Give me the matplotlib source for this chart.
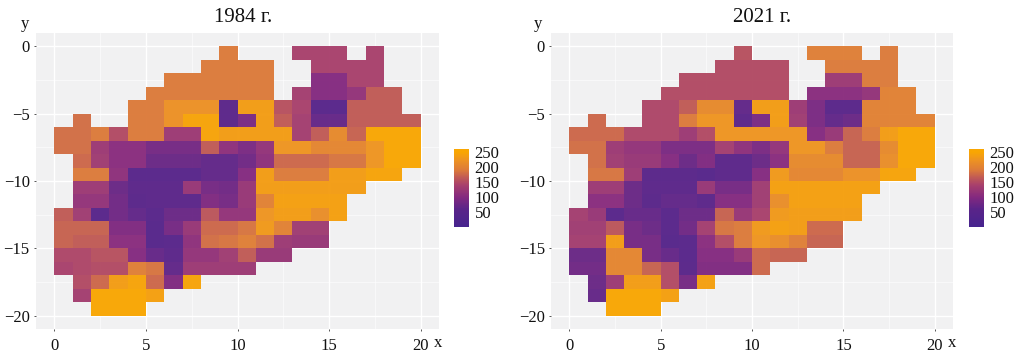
import matplotlib
matplotlib.use("Agg")
import matplotlib.pyplot as plt
import numpy as np
from matplotlib.colors import LinearSegmentedColormap

_ = np.nan
titles = ["1984 г.", "2021 г."]
x_ticks = [0, 5, 10, 15, 20]
y_ticks = [0, -5, -10, -15, -20]
legend_ticks = [50, 100, 150, 200, 250]

# rows run from y=0 downward, columns from x=0 rightward
tiles_1984 = [
 [_,_,_,_,_,_,_,_,_,190,_,_,_,140,140,140,_,140,_,_],
 [_,_,_,_,_,_,_,_,190,190,190,190,_,_,140,140,140,140,_,_],
 [_,_,_,_,_,_,190,190,190,190,190,190,_,_,100,100,140,140,_,_],
 [_,_,_,_,_,190,190,190,190,190,190,190,_,135,100,100,115,165,165,_],
 [_,_,_,_,190,190,220,220,220,60,235,235,155,140,50,50,165,165,165,_],
 [_,180,_,_,190,190,220,245,245,60,90,235,165,135,70,70,165,165,165,165],
 [180,180,190,150,190,190,125,125,245,235,235,235,235,135,165,210,170,250,250,250],
 [180,180,125,105,105,85,85,85,165,110,90,115,225,225,205,205,205,225,250,250],
 [_,175,130,105,105,75,75,75,65,65,80,110,175,175,175,185,185,225,250,250],
 [_,190,190,110,50,50,50,50,65,65,100,235,190,190,190,235,235,245,245,_],
 [_,125,125,75,60,60,60,120,85,80,120,235,235,235,235,235,235,_,_,_],
 [_,115,115,80,55,60,60,60,95,85,120,200,240,240,240,240,_,_,_,_],
 [165,130,50,80,65,50,75,75,160,115,115,225,235,235,215,240,_,_,_,_],
 [170,170,170,95,95,45,85,120,175,175,185,230,200,130,130,_,_,_,_,_],
 [170,165,165,105,105,45,50,110,180,185,195,180,125,120,120,_,_,_,_,_],
 [145,145,155,155,100,70,60,115,115,130,165,120,120,_,_,_,_,_,_,_],
 [140,145,150,150,195,185,65,125,125,125,125,_,_,_,_,_,_,_,_,_],
 [_,150,175,235,245,175,95,245,_,_,_,_,_,_,_,_,_,_,_,_],
 [_,135,250,250,250,240,_,_,_,_,_,_,_,_,_,_,_,_,_,_],
 [_,_,250,250,250,_,_,_,_,_,_,_,_,_,_,_,_,_,_,_],
]
tiles_2021 = [
 [_,_,_,_,_,_,_,_,_,155,_,_,_,195,195,195,_,190,_,_],
 [_,_,_,_,_,_,_,_,150,150,150,150,_,_,190,190,190,190,_,_],
 [_,_,_,_,_,_,150,150,150,150,150,150,_,_,125,125,190,190,_,_],
 [_,_,_,_,_,150,150,150,150,150,150,150,_,105,105,105,115,200,200,_],
 [_,_,_,_,145,145,165,210,210,65,235,235,125,90,55,55,200,200,200,_],
 [_,175,_,_,145,145,190,225,225,60,90,235,130,90,65,75,200,200,200,200],
 [175,175,175,145,145,145,125,150,225,225,225,225,225,100,120,170,190,235,250,250],
 [180,180,125,115,115,90,90,90,135,110,90,115,225,225,190,170,170,210,250,250],
 [_,180,130,120,120,100,75,95,60,60,75,105,210,210,210,170,170,215,250,250],
 [_,185,185,125,55,55,55,45,60,60,100,230,205,205,205,220,220,245,245,_],
 [_,125,125,75,60,60,60,120,85,85,130,240,240,240,240,240,240,_,_,_],
 [_,105,105,75,55,65,65,60,100,100,130,215,240,240,240,240,_,_,_,_],
 [135,120,50,70,70,50,75,75,170,120,140,230,235,235,235,235,_,_,_,_],
 [130,130,160,85,75,50,80,135,185,190,230,240,235,175,175,_,_,_,_,_],
 [135,135,235,85,85,45,50,105,150,190,225,215,195,170,170,_,_,_,_,_],
 [75,75,205,205,85,70,50,100,100,120,175,170,170,_,_,_,_,_,_,_],
 [80,80,205,205,170,150,55,95,95,95,175,_,_,_,_,_,_,_,_,_],
 [_,75,125,235,235,150,85,240,_,_,_,_,_,_,_,_,_,_,_,_],
 [_,70,250,250,250,240,_,_,_,_,_,_,_,_,_,_,_,_,_,_],
 [_,_,250,250,250,_,_,_,_,_,_,_,_,_,_,_,_,_,_,_],
]

W, H = 1024, 360
plt.rcParams["font.family"] = ["Liberation Serif"]
fig = plt.figure(figsize=(W / 100, H / 100), dpi=100)

def rect(l, t, r, b):
    return [l / W, 1 - b / H, (r - l) / W, (b - t) / H]

stops = [(0, "#46248e"), (60 / 260, "#5a2489"), (100 / 260, "#84297f"),
         (140 / 260, "#a8406c"), (165 / 260, "#c05a55"), (190 / 260, "#dc7a3a"),
         (225 / 260, "#ee9420"), (250 / 260, "#f9a602"), (1, "#f9a602")]
cmap = LinearSegmentedColormap.from_list("heat", stops)

panels = [(tiles_1984, (36, 33, 439, 329), (454, 149, 469, 227), 243.5, 25, 438),
          (tiles_2021, (551, 33, 953, 329), (969, 149, 984, 227), 762.5, 538, 952)]

for title, (grid, box, lbox, tx, yx, xx) in zip(titles, panels):
    ax = fig.add_axes(rect(*box))
    ax.set_facecolor("#f1f1f2")
    ax.set_xlim(-1, 21)
    ax.set_ylim(-21, 1)
    for s in ax.spines.values():
        s.set_visible(False)
    ax.set_axisbelow(True)
    ax.set_xticks(x_ticks)
    ax.set_yticks(y_ticks)
    ax.set_xticks([2.5, 7.5, 12.5, 17.5], minor=True)
    ax.set_yticks([-2.5, -7.5, -12.5, -17.5], minor=True)
    ax.grid(True, which="major", color="white", lw=1.0)
    ax.grid(True, which="minor", color="white", lw=0.4)
    ax.tick_params(which="minor", length=0)
    ax.tick_params(axis="x", which="major", length=1.5, width=0.7, color="#555555",
                   labelsize=12, pad=5, labelcolor="#111111")
    ax.tick_params(axis="y", which="major", length=1.5, width=0.7, color="#555555",
                   labelsize=12, pad=3, labelcolor="#111111")
    ax.set_xticklabels([str(v) for v in x_ticks])
    ax.set_yticklabels([str(v).replace("-", "\u2212") for v in y_ticks])
    xe = np.arange(21)
    ye = -np.arange(21)
    ax.pcolormesh(xe, ye, np.array(grid, float), cmap=cmap, vmin=0, vmax=260,
                  alpha=0.97, linewidth=0, zorder=2, antialiased=False)
    fig.text(tx / W, 1 - 18 / H, title, fontsize=15, ha="center", va="center", color="#111111")
    fig.text(yx / W, 1 - 24 / H, "y", fontsize=12, ha="center", va="center", color="#111111")
    fig.text(xx / W, 1 - 347 / H, "x", fontsize=12, ha="center", va="baseline", color="#111111")

    cax = fig.add_axes(rect(*lbox))
    sm = plt.cm.ScalarMappable(cmap=cmap, norm=plt.Normalize(0, 260))
    cb = fig.colorbar(sm, cax=cax)
    cb.set_ticks(legend_ticks)
    cb.outline.set_visible(False)
    cax.tick_params(length=0, pad=4, labelsize=12, labelcolor="#111111")

fig.savefig("out.png", dpi=100)
